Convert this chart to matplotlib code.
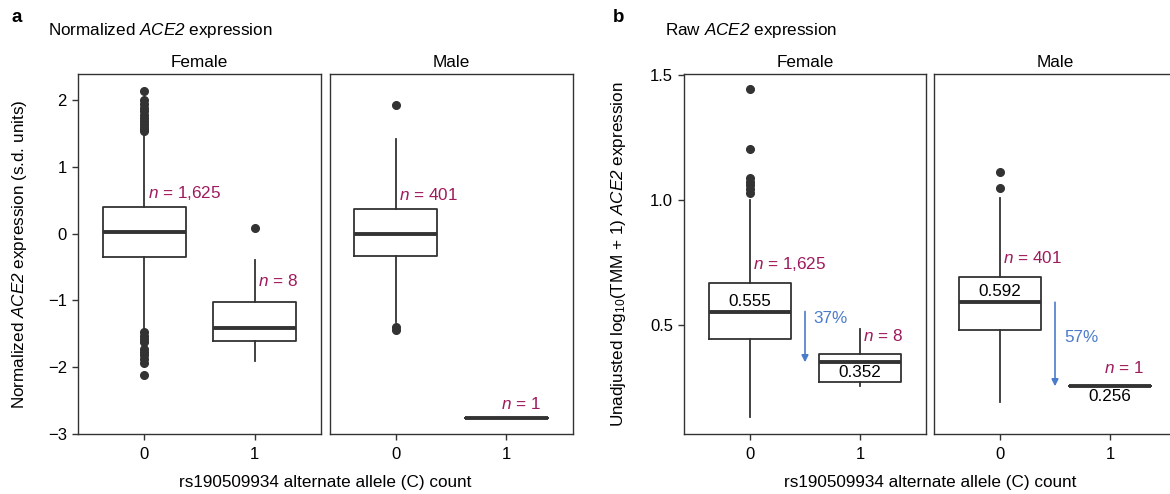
import numpy as np
import matplotlib
matplotlib.use("Agg")
import matplotlib.pyplot as plt

plt.rcParams["font.family"] = ["Liberation Sans", "DejaVu Sans"]
plt.rcParams["mathtext.fontset"] = "custom"
plt.rcParams["mathtext.rm"] = "Liberation Sans"
plt.rcParams["mathtext.it"] = "Liberation Sans:italic"
plt.rcParams["mathtext.sf"] = "Liberation Sans:italic"
plt.rcParams["mathtext.bf"] = "Liberation Sans:bold"

allele = [0, 1]

# five-number summaries per allele count: whislo, q1, median, q3, whishi
norm_female = [[-1.45, -0.35, 0.03, 0.40, 1.50],
               [-1.91, -1.61, -1.42, -1.02, -0.40]]
norm_male = [[-1.33, -0.335, 0.0, 0.365, 1.41],
             [-2.76, -2.76, -2.76, -2.76, -2.76]]
norm_female_out = [[2.13, 2.0, 1.94, 1.88, 1.83, 1.78, 1.73, 1.68, 1.64, 1.60, 1.56, 1.53,
                    -1.48, -1.53, -1.58, -1.62, -1.72, -1.77, -1.82, -1.88, -1.93, -2.12],
                   [0.09]]
norm_male_out = [[1.93, -1.40, -1.45], []]

raw_female = [[0.132, 0.447, 0.555, 0.671, 1.00],
              [0.256, 0.274, 0.352, 0.384, 0.484]]
raw_male = [[0.193, 0.483, 0.592, 0.695, 1.01],
            [0.256, 0.256, 0.256, 0.256, 0.256]]
raw_female_out = [[1.03, 1.045, 1.06, 1.075, 1.09, 1.205, 1.445], []]
raw_male_out = [[1.05, 1.113], []]

n_female = [1625, 8]
n_male = [401, 1]

DARK = "#333333"
MAGENTA = "#9E1A5C"
BLUE = "#4B7BCB"
FS = 12.3


def facet(ax, summ, outl, ns, ylim, title, n_off, yticks=None):
    stats = [dict(whislo=s[0], q1=s[1], med=s[2], q3=s[3], whishi=s[4], fliers=o)
             for s, o in zip(summ, outl)]
    ax.bxp(stats, positions=allele, widths=0.75, showcaps=False,
           boxprops=dict(color=DARK, lw=1.3),
           whiskerprops=dict(color=DARK, lw=1.3),
           medianprops=dict(color=DARK, lw=2.8, solid_capstyle="butt"),
           flierprops=dict(marker="o", ms=5.5, mfc=DARK, mec=DARK))
    for x, s, n, off in zip(allele, summ, ns, n_off):
        x0 = x + 0.03 if n > 1 else x - 0.05
        ax.annotate(f"$n$ = {n:,}", xy=(x0, s[3]), xytext=(0, off),
                    textcoords="offset points", ha="left", va="center",
                    color=MAGENTA, fontsize=FS)
    ax.set_xlim(-0.6, 1.6)
    ax.set_ylim(*ylim)
    ax.set_xticks(allele)
    ax.set_xticklabels(["0", "1"])
    ax.set_title(title, fontsize=12.3, pad=5)
    ax.tick_params(direction="out", length=4, width=1, color=DARK,
                   labelsize=12, pad=5)
    ax.tick_params(axis="y", pad=4)
    for sp in ax.spines.values():
        sp.set_color(DARK)
        sp.set_linewidth(1)
    if yticks is None:
        ax.tick_params(axis="y", left=False, labelleft=False)
    else:
        ax.set_yticks(yticks)
        ax.set_yticklabels([str(t).replace("-", "\u2212") for t in yticks])


def median_labels(ax, summ, pct_y):
    med0, med1 = summ[0][2], summ[1][2]
    ax.annotate(f"{med0:.3f}", xy=(0, med0), xytext=(0, 2), textcoords="offset points",
                ha="center", va="bottom", fontsize=FS)
    ax.annotate(f"{med1:.3f}", xy=(1, med1), xytext=(0, -2), textcoords="offset points",
                ha="center", va="top", fontsize=FS)
    ax.annotate("", xy=(0.5, med1), xytext=(0.5, med0),
                arrowprops=dict(arrowstyle="-|>", color=BLUE, lw=1.2,
                                mutation_scale=10, shrinkA=0, shrinkB=0))
    pct = round((1 - med1 / med0) * 100)
    ax.text(0.58, pct_y, f"{pct}%", color=BLUE, fontsize=FS, ha="left", va="center")


W, H = 1170, 494
fig = plt.figure(figsize=(W / 100, H / 100), dpi=100)


def add_ax(left, width):
    return fig.add_axes([left / W, 1 - 434 / H, width / W, 360 / H])


ax_af = add_ax(78, 243)
ax_am = add_ax(329.5, 243)
ax_bf = add_ax(684, 242)
ax_bm = add_ax(934, 242)

ylim_a = (-3.0, 2.39)
ylim_b = (0.065, 1.505)

facet(ax_af, norm_female, norm_female_out, n_female, ylim_a, "Female", [10, 15],
      yticks=[-3, -2, -1, 0, 1, 2])
facet(ax_am, norm_male, norm_male_out, n_male, ylim_a, "Male", [10, 10])
facet(ax_bf, raw_female, raw_female_out, n_female, ylim_b, "Female", [13, 13])
ax_bf.set_yticks([0.5, 1.0, 1.5])
ax_bf.set_yticklabels(["0.5", "1.0", "1.5"])
ax_bf.tick_params(axis="y", left=True, labelleft=True)
facet(ax_bm, raw_male, raw_male_out, n_male, ylim_b, "Male", [13, 13])

median_labels(ax_bf, raw_female, 0.528)
median_labels(ax_bm, raw_male, 0.451)

ax_af.set_ylabel(r"Normalized $\mathsf{ACE2}$ expression (s.d. units)", fontsize=FS)
ax_af.yaxis.set_label_coords(-0.20, 0.5)
ax_bf.set_ylabel(r"Unadjusted log$_{10}$(TMM + 1) $\mathsf{ACE2}$ expression", fontsize=FS)
ax_bf.yaxis.set_label_coords(-0.23, 0.5)

xlab = "rs190509934 alternate allele (C) count"
fig.text(325 / W, 1 - 482 / H, xlab, ha="center", va="center", fontsize=FS)
fig.text(930 / W, 1 - 482 / H, xlab, ha="center", va="center", fontsize=FS)

fig.text(12 / W, 1 - 17 / H, "a", fontsize=13.5, fontweight="bold", va="center")
fig.text(613 / W, 1 - 17 / H, "b", fontsize=13.5, fontweight="bold", va="center")
fig.text(48 / W, 1 - 30 / H, r"Normalized $\mathsf{ACE2}$ expression", fontsize=FS, va="center")
fig.text(665 / W, 1 - 30 / H, r"Raw $\mathsf{ACE2}$ expression", fontsize=FS, va="center")

fig.savefig("out.png", dpi=100)
